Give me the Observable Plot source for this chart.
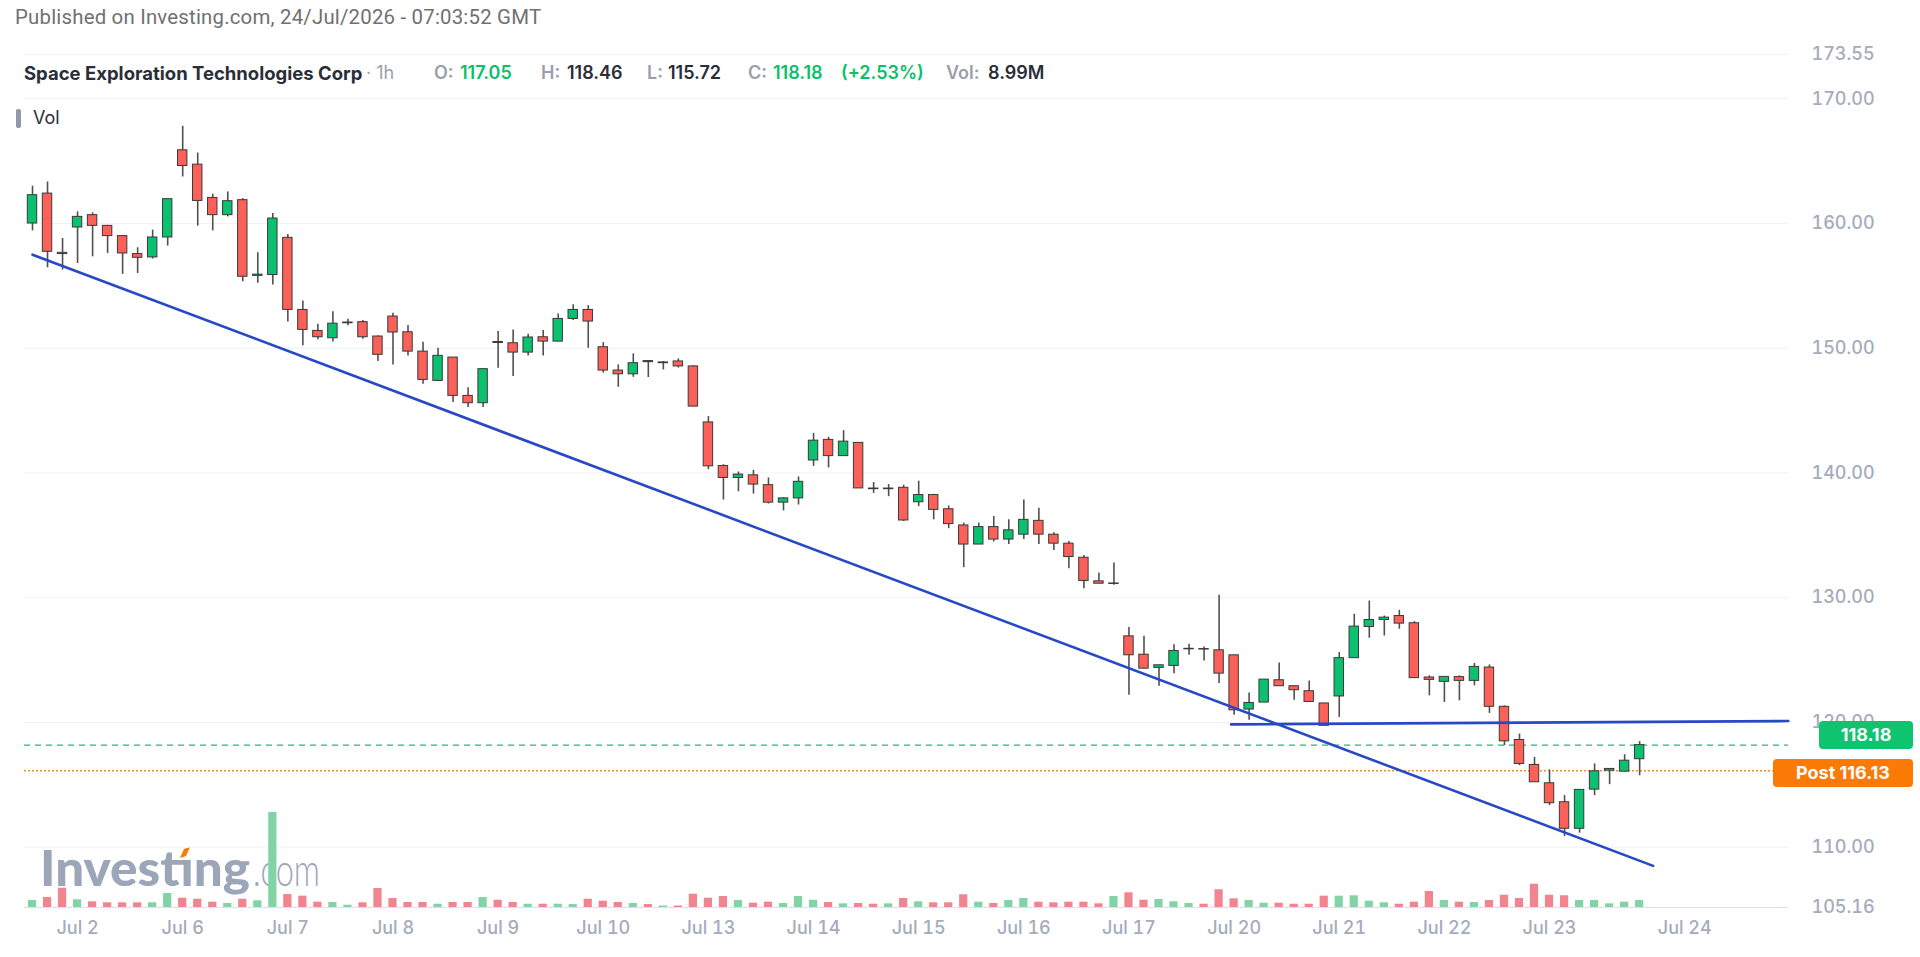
<!DOCTYPE html>
<html>
<head>
<meta charset="utf-8">
<script src="https://cdn.jsdelivr.net/npm/d3@7"></script>
<script src="https://cdn.jsdelivr.net/npm/@observablehq/plot@0.6"></script>
<style>
  html, body { margin: 0; padding: 0; background: #ffffff; }
  #wrap { position: relative; width: 1920px; height: 957px; overflow: hidden; font-family: Inter, "Noto Sans", sans-serif; background: #fff; }
  .layer { position: absolute; left: 0; top: 0; }
  .hdr { position: absolute; top: 61px; font-size: 18px; font-weight: 600; line-height: 24px; white-space: nowrap; }
  .pub { position: absolute; left: 15px; top: 5px; font-family: Roboto, sans-serif; font-size: 20.4px; letter-spacing: 0.2px; color: #707070; white-space: nowrap; }
  .tag { position: absolute; height: 28px; line-height: 28px; border-radius: 4px; color: #fff; font-weight: 700; font-size: 18px; text-align: center; }
</style>
</head>
<body>
<div id="wrap"></div>
<script>
// ---------------- data ----------------
const opens = [160.0,162.4,157.65,159.68,160.67,159.81,158.99,157.55,157.28,158.88,
165.87,164.72,162.05,160.67,161.87,155.8,155.87,158.85,153.07,151.39,
150.8,152.0,152.09,150.94,152.54,151.28,149.73,147.38,149.25,146.18,
145.59,150.5,150.4,149.65,150.88,150.53,152.35,153.07,150.08,148.21,
147.91,148.97,148.8,148.94,148.54,144.05,140.56,139.6,139.81,139.02,
137.62,137.96,141.0,142.65,141.35,142.41,138.75,138.7,138.81,137.65,
138.23,137.09,135.79,134.26,135.66,134.66,135.05,136.16,135.05,134.33,
133.2,131.31,131.1,126.9,125.43,124.37,124.53,125.86,125.88,125.78,
125.38,121.03,121.59,123.38,122.9,122.5,121.52,122.08,125.15,127.65,
128.21,128.53,127.95,123.6,123.25,123.63,123.33,124.4,121.25,118.59,
116.59,115.12,113.6,111.47,114.61,116.13,116.05,117.05];
const highs = [162.99,163.33,158.8,160.93,160.85,159.85,159.0,158.05,159.47,161.95,
167.79,165.65,162.35,162.53,162.0,157.65,160.8,159.12,153.79,151.92,
152.93,152.33,152.22,150.99,152.81,151.82,150.48,150.0,149.25,146.84,
148.32,151.34,151.47,151.12,151.42,152.75,153.48,153.42,150.45,148.66,
149.55,149.01,148.93,149.15,148.6,144.52,140.66,140.08,140.21,139.6,
138.02,139.68,143.17,142.86,143.39,142.41,139.23,139.07,139.02,139.34,
138.28,137.35,135.98,135.98,136.51,136.24,137.83,137.17,135.2,134.5,
133.39,131.98,132.78,127.6,126.9,124.58,126.23,126.26,126.05,130.19,
125.38,122.36,123.43,124.77,122.9,123.32,121.52,125.6,128.67,129.73,
128.53,128.99,128.08,123.73,123.65,123.73,124.72,124.61,121.33,119.07,
117.2,116.19,114.13,114.59,116.67,116.27,117.41,118.46];
const lows = [159.41,156.45,156.27,156.8,157.33,157.6,155.92,155.99,157.15,158.19,
163.73,159.79,159.41,160.53,155.33,155.2,155.07,152.1,150.19,150.67,
150.5,151.8,150.72,148.93,148.66,149.38,147.11,147.38,145.64,145.24,
145.24,148.4,147.73,149.38,149.38,150.53,152.22,150.0,148.0,146.87,
147.67,147.65,148.26,148.41,145.32,140.26,137.83,138.49,138.31,137.51,
136.96,137.43,140.53,140.4,141.35,138.76,138.36,138.1,136.11,137.3,
136.24,135.53,132.41,134.26,134.47,134.26,134.66,134.26,133.79,132.32,
130.72,131.12,130.99,122.18,124.31,122.9,123.91,125.38,124.93,123.11,
120.57,120.17,121.59,122.9,121.78,121.64,119.73,120.4,125.15,126.75,
126.93,127.47,123.55,122.13,121.6,121.73,122.93,120.72,118.13,116.53,
115.2,113.33,110.85,111.12,114.13,115.01,116.05,115.72];
const closes = [162.27,157.73,157.55,160.53,159.81,158.99,157.6,157.25,158.88,161.95,
164.61,161.81,160.67,161.79,155.73,155.9,160.4,153.07,151.47,150.88,
151.97,152.06,150.88,149.47,151.26,149.73,147.46,149.39,146.18,145.59,
148.32,150.42,149.65,150.86,150.53,152.35,153.07,152.14,148.21,147.91,
148.8,148.88,148.86,148.54,145.32,140.53,139.6,139.87,139.07,137.62,
137.96,139.29,142.59,141.35,142.51,138.76,138.7,138.75,136.19,138.23,
137.04,135.9,134.26,135.66,134.66,135.4,136.24,135.05,134.33,133.26,
131.34,131.12,131.14,125.38,124.31,124.58,125.73,125.9,125.84,123.91,
120.97,121.56,123.43,122.9,122.58,121.64,119.73,125.15,127.68,128.21,
128.4,127.92,123.55,123.41,123.65,123.33,124.45,121.25,118.48,116.67,
115.2,113.52,111.47,114.59,116.08,116.27,116.93,118.18];
// volume, millions of shares
const volumes = [9.0,12.8,24.7,9.9,7.3,6.0,6.0,6.0,6.0,17.9,
11.9,10.6,6.8,5.1,10.6,8.6,121.6,16.6,14.5,6.8,
6.4,2.9,6.0,24.3,11.5,6.4,6.4,4.2,6.4,6.4,
12.8,9.3,6.4,4.2,4.2,4.2,3.8,10.6,8.1,6.4,
5.1,3.8,1.9,1.9,17.0,11.9,14.1,9.0,5.5,6.8,
5.1,14.1,9.3,6.4,4.7,5.1,4.2,4.7,11.5,7.3,
6.0,6.0,16.3,6.8,5.1,9.0,11.5,6.8,6.0,6.8,
6.8,4.7,14.1,18.8,9.3,10.2,7.3,5.1,4.2,22.7,
11.1,9.0,5.5,5.5,4.2,4.2,14.5,14.5,15.0,8.1,
6.0,4.2,6.8,20.5,9.0,6.8,6.4,9.0,15.7,11.5,
29.8,15.7,15.0,9.0,9.0,4.7,6.8,8.99];

// date ticks (bar index of each day's first hourly bar)
const dayTickIdx = [4, 11, 18, 25, 32, 39, 46, 53, 60, 67, 74, 81, 88, 95, 102, 111];
const dayTickLabels = ["Jul 2","Jul 6","Jul 7","Jul 8","Jul 9","Jul 10","Jul 13","Jul 14","Jul 15","Jul 16","Jul 17","Jul 20","Jul 21","Jul 22","Jul 23","Jul 24"];

// price axis
const priceTicks = [105.16, 110, 120, 130, 140, 150, 160, 170, 173.55];
const gridPrices = [110, 120, 130, 140, 150, 160, 170, 173.55];
const priceMin = 105.16, priceMax = 173.55;
const barIndexDomain = [0.467, 117.91];

// drawn trend lines
const downTrendIdx = [1, 108.9];
const downTrendPrice = [157.5, 108.5];
const supportIdx = [80.8, 117.9];
const supportPrice = [119.84, 120.11];

// price markers
const lastClose = 118.18;
const postPrice = 116.13;

// header values
const header = {name: "Space Exploration Technologies Corp", interval: "1h", O: "117.05", H: "118.46", L: "115.72", C: "118.18", chg: "(+2.53%)", vol: "8.99M"};

// ---------------- build ----------------
const candles = opens.map((o, i) => ({k: i + 1, open: o, high: highs[i], low: lows[i], close: closes[i], volume: volumes[i]}));
const downTrend = downTrendIdx.map((k, i) => ({k, p: downTrendPrice[i]}));
const support = supportIdx.map((k, i) => ({k, p: supportPrice[i]}));

const W = 1920, H = 957, mL = 24, mR = 132, mT = 54, mB = 50;
const GREEN = "#0bc06e", RED = "#fb6158", EDGE = "#3a3a3a", WICK = "#505050";
const VGREEN = "#82d4a7", VRED = "#f1858f";
const LABEL = "#a4acbc";

const wrap = document.getElementById("wrap");

// watermark logo (behind everything)
const logo = d3.create("svg").attr("class", "layer").attr("width", W).attr("height", H);
logo.append("text").attr("x", 40).attr("y", 886).attr("font-family", "Lato, Inter, sans-serif")
  .attr("font-weight", 900).attr("font-size", 50).attr("fill", "#9ca6b9")
  .attr("textLength", 210).attr("lengthAdjust", "spacingAndGlyphs").text("Investıng");
logo.append("polygon").attr("points", "180,858 184,849 190,847 186,856").attr("fill", "#f57c00");
logo.append("text").attr("x", 253).attr("y", 886).attr("font-family", "Lato, Inter, sans-serif")
  .attr("font-weight", 300).attr("font-size", 46).attr("fill", "#9ca6b9")
  .attr("textLength", 67).attr("lengthAdjust", "spacingAndGlyphs").text(".com");
wrap.appendChild(logo.node());

// main price chart
const main = Plot.plot({
  width: W, height: H,
  marginLeft: mL, marginRight: mR, marginTop: mT, marginBottom: mB,
  style: {background: "transparent", fontFamily: "Inter, sans-serif"},
  x: {type: "linear", domain: barIndexDomain},
  y: {type: "linear", domain: [priceMin, priceMax]},
  color: {type: "identity"},
  marks: [
    Plot.ruleY(gridPrices, {stroke: "#eef1f6", strokeWidth: 1}),
    Plot.ruleY([priceMin], {stroke: "#dde1ea", strokeWidth: 1.2}),
    Plot.axisY(priceTicks, {anchor: "right", tickSize: 0, tickPadding: 23, label: null,
      tickFormat: d => d.toFixed(2), fontSize: 18, fontWeight: 500, fill: LABEL}),
    Plot.axisX(dayTickIdx, {anchor: "bottom", tickSize: 0, tickPadding: 14, label: null,
      tickFormat: d => dayTickLabels[dayTickIdx.indexOf(d)], fontSize: 18, fontWeight: 500, fill: LABEL}),
    Plot.ruleY([lastClose], {stroke: "#19c173", strokeWidth: 1.3, strokeDasharray: "6,5"}),
    Plot.ruleY([postPrice], {stroke: "#f58a1f", strokeWidth: 1.4, strokeDasharray: "2,2"}),
    Plot.ruleX(candles, {x: "k", y1: "low", y2: "high", stroke: WICK, strokeWidth: 1.6}),
    Plot.rect(candles, {
      x1: d => d.k - 0.5, x2: d => d.k + 0.5,
      y1: "open", y2: "close",
      insetLeft: 2.8, insetRight: 2.8,
      fill: d => d.close >= d.open ? GREEN : RED,
      stroke: EDGE, strokeWidth: 1
    }),
    Plot.line(downTrend, {x: "k", y: "p", stroke: "#2849c6", strokeWidth: 2.6}),
    Plot.line(support, {x: "k", y: "p", stroke: "#2849c6", strokeWidth: 2.6})
  ]
});
main.classList.add("layer");
wrap.appendChild(main);

// volume pane overlay sharing the same bar-index scale
const volPaneHeight = 95;
const vol = Plot.plot({
  width: W, height: H,
  marginLeft: mL, marginRight: mR, marginTop: mT, marginBottom: mB,
  style: {background: "transparent"},
  x: {type: "linear", domain: barIndexDomain, axis: null},
  y: {type: "linear", domain: [0, d3.max(volumes)], range: [H - mB, H - mB - volPaneHeight], axis: null},
  color: {type: "identity"},
  marks: [
    Plot.rect(candles, {
      x1: d => d.k - 0.5, x2: d => d.k + 0.5,
      y1: d => 0, y2: "volume",
      insetLeft: 3.4, insetRight: 3.4,
      fill: d => d.close >= d.open ? VGREEN : VRED
    })
  ]
});
vol.classList.add("layer");
vol.style.pointerEvents = "none";
wrap.appendChild(vol);

// price tags positioned from the y scale (nudged apart like the original)
const ys = main.scale("y");
const yLast = ys.apply(lastClose), yPost = ys.apply(postPrice);
const tagLast = document.createElement("div");
tagLast.className = "tag";
tagLast.style.cssText = `left:1819px;width:94px;top:${yLast - 14 - 10}px;background:#0ec46f;`;
tagLast.textContent = lastClose.toFixed(2);
wrap.appendChild(tagLast);
const tagPost = document.createElement("div");
tagPost.className = "tag";
tagPost.style.cssText = `left:1773px;width:140px;top:${yPost - 14 + 3}px;background:#fb7a06;`;
tagPost.textContent = "Post " + postPrice.toFixed(2);
wrap.appendChild(tagPost);

// text overlays
function addDiv(cls, left, html, extra) {
  const d = document.createElement("div");
  d.className = cls;
  d.style.left = left + "px";
  if (extra) d.style.cssText += extra;
  d.innerHTML = html;
  wrap.appendChild(d);
  return d;
}
addDiv("pub", 15, "Published on Investing.com, 24/Jul/2026 - 07:03:52 GMT");
const G = "#0bbf6a", DK = "#2a2e39", GR = "#9a9fab";
addDiv("hdr", 24, `<span style="font-weight:700;color:${DK};font-size:18.5px">${header.name}</span>`);
addDiv("hdr", 366, `<span style="color:${GR};font-weight:400">· ${header.interval}</span>`);
addDiv("hdr", 434, `<span style="color:${GR}">O:</span>`);
addDiv("hdr", 460, `<span style="color:${G}">${header.O}</span>`);
addDiv("hdr", 541, `<span style="color:${GR}">H:</span>`);
addDiv("hdr", 567, `<span style="color:${DK}">${header.H}</span>`);
addDiv("hdr", 647, `<span style="color:${GR}">L:</span>`);
addDiv("hdr", 668, `<span style="color:${DK}">${header.L}</span>`);
addDiv("hdr", 748, `<span style="color:${GR}">C:</span>`);
addDiv("hdr", 773, `<span style="color:${G}">${header.C}</span>`);
addDiv("hdr", 841, `<span style="color:${G}">${header.chg}</span>`);
addDiv("hdr", 946, `<span style="color:${GR}">Vol:</span>`);
addDiv("hdr", 988, `<span style="color:${DK}">${header.vol}</span>`);
// Vol legend
const bar = document.createElement("div");
bar.style.cssText = "position:absolute;left:16px;top:109px;width:5px;height:19px;background:#8f99ab;border-radius:2px;";
wrap.appendChild(bar);
addDiv("hdr", 33, `<span style="color:${DK};font-size:18px;font-weight:400">Vol</span>`, "top:106px;");
</script>
</body>
</html>
